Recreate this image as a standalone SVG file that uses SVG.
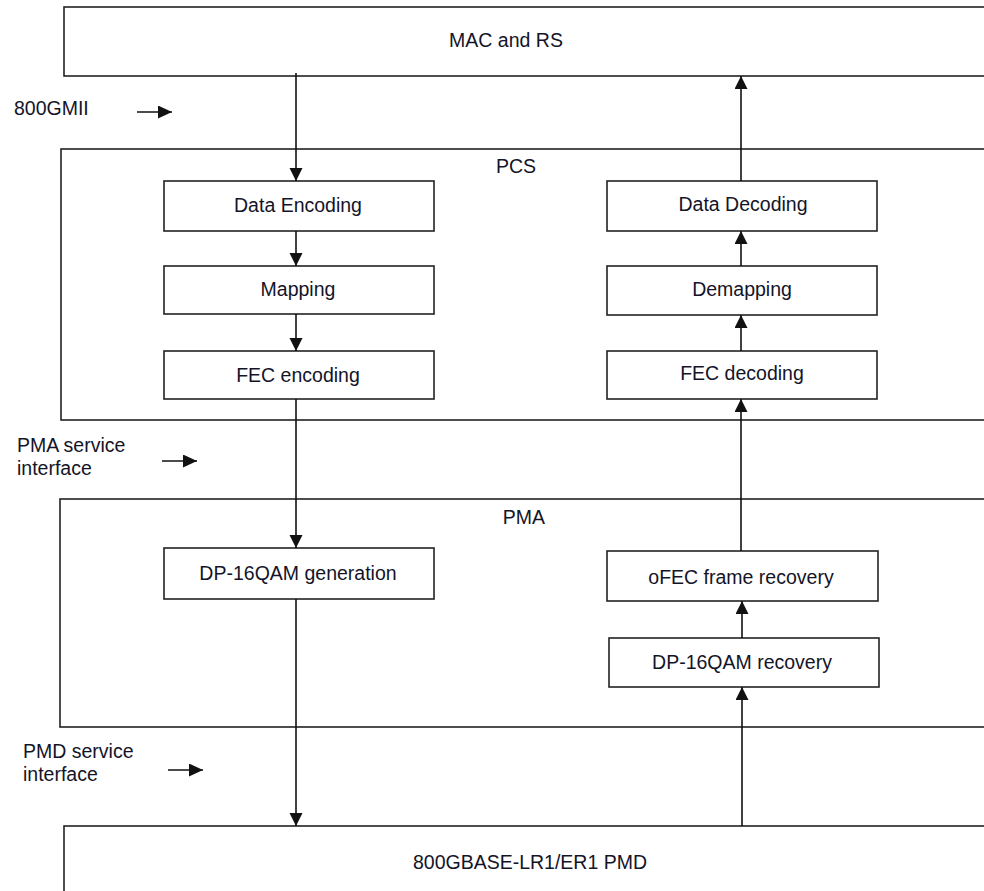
<svg xmlns="http://www.w3.org/2000/svg" width="984" height="891" viewBox="0 0 984 891">
  <defs>
    <style>
      .box { fill: #ffffff; stroke: #222222; stroke-width: 1.6; }
      .lbl { font-family: "Liberation Sans", Arial, sans-serif; font-size: 19.5px; fill: #141428; text-anchor: middle; }
      .side { font-family: "Liberation Sans", Arial, sans-serif; font-size: 19.5px; fill: #141428; }
      .wire { fill: none; stroke: #111111; stroke-width: 1.6; marker-end: url(#head); }
      .hint { fill: none; stroke: #111111; stroke-width: 1.6; marker-end: url(#headSmall); }
    </style>
    <marker id="head" markerUnits="userSpaceOnUse" markerWidth="14" markerHeight="14" refX="13" refY="6.5" orient="auto">
      <path d="M0,0 L13,6.5 L0,13 z" fill="#111111"/>
    </marker>
    <marker id="headSmall" markerUnits="userSpaceOnUse" markerWidth="15" markerHeight="14" refX="14" refY="6.5" orient="auto">
      <path d="M0,0 L14,6.5 L0,13 z" fill="#111111"/>
    </marker>
  </defs>

  <rect width="984" height="891" fill="#ffffff"/>

  <!-- sublayer frames (open on the right edge) -->
  <g id="mac">
    <rect class="box" x="64" y="7" width="930" height="69"/>
    <text class="lbl" x="506" y="47">MAC and RS</text>
  </g>
  <g id="pcs">
    <rect class="box" x="61" y="149" width="933" height="271"/>
    <text class="lbl" x="516" y="173">PCS</text>
  </g>
  <g id="pma">
    <rect class="box" x="60" y="499" width="934" height="228"/>
    <text class="lbl" x="524" y="524">PMA</text>
  </g>
  <g id="pmd">
    <rect class="box" x="64" y="826" width="930" height="80"/>
    <text class="lbl" x="530" y="869">800GBASE-LR1/ER1 PMD</text>
  </g>

  <!-- transmit path -->
  <g id="data-encoding">
    <rect class="box" x="164" y="181" width="270" height="50"/>
    <text class="lbl" x="298" y="212">Data Encoding</text>
  </g>
  <g id="mapping">
    <rect class="box" x="164" y="266" width="270" height="48"/>
    <text class="lbl" x="298" y="296">Mapping</text>
  </g>
  <g id="fec-encoding">
    <rect class="box" x="164" y="351" width="270" height="48"/>
    <text class="lbl" x="298" y="382">FEC encoding</text>
  </g>
  <g id="dp16qam-generation">
    <rect class="box" x="164" y="548" width="270" height="51"/>
    <text class="lbl" x="298" y="580">DP-16QAM generation</text>
  </g>

  <!-- receive path -->
  <g id="data-decoding">
    <rect class="box" x="607" y="181" width="270" height="50"/>
    <text class="lbl" x="743" y="211">Data Decoding</text>
  </g>
  <g id="demapping">
    <rect class="box" x="607" y="266" width="270" height="49"/>
    <text class="lbl" x="742" y="296">Demapping</text>
  </g>
  <g id="fec-decoding">
    <rect class="box" x="607" y="351" width="270" height="48"/>
    <text class="lbl" x="742" y="380">FEC decoding</text>
  </g>
  <g id="ofec-frame-recovery">
    <rect class="box" x="607" y="551" width="271" height="50"/>
    <text class="lbl" x="741" y="584">oFEC frame recovery</text>
  </g>
  <g id="dp16qam-recovery">
    <rect class="box" x="609" y="638" width="270" height="49"/>
    <text class="lbl" x="742" y="669">DP-16QAM recovery</text>
  </g>

  <!-- interface labels -->
  <g id="if-800gmii">
    <text class="side" x="14" y="115">800GMII</text>
  </g>
  <g id="if-pma">
    <text class="side" x="17" y="452">PMA service</text>
    <text class="side" x="17" y="474.5">interface</text>
  </g>
  <g id="if-pmd">
    <text class="side" x="23" y="758">PMD service</text>
    <text class="side" x="23" y="780.5">interface</text>
  </g>

  <!-- connectors -->
  <g id="connectors">
    <line class="wire" x1="296" y1="73" x2="296" y2="181"/>
    <line class="wire" x1="296" y1="231" x2="296" y2="266"/>
    <line class="wire" x1="296" y1="314" x2="296" y2="351"/>
    <line class="wire" x1="296" y1="399" x2="296" y2="548"/>
    <line class="wire" x1="296" y1="599" x2="296" y2="826"/>

    <line class="wire" x1="741" y1="181" x2="741" y2="76"/>
    <line class="wire" x1="741" y1="266" x2="741" y2="231"/>
    <line class="wire" x1="741" y1="351" x2="741" y2="315"/>
    <line class="wire" x1="741" y1="551" x2="741" y2="399"/>
    <line class="wire" x1="742" y1="638" x2="742" y2="601"/>
    <line class="wire" x1="742" y1="826" x2="742" y2="687"/>

    <line class="hint" x1="137" y1="112" x2="172" y2="112"/>
    <line class="hint" x1="162" y1="461" x2="197" y2="461"/>
    <line class="hint" x1="168" y1="770" x2="203" y2="770"/>
  </g>
</svg>
